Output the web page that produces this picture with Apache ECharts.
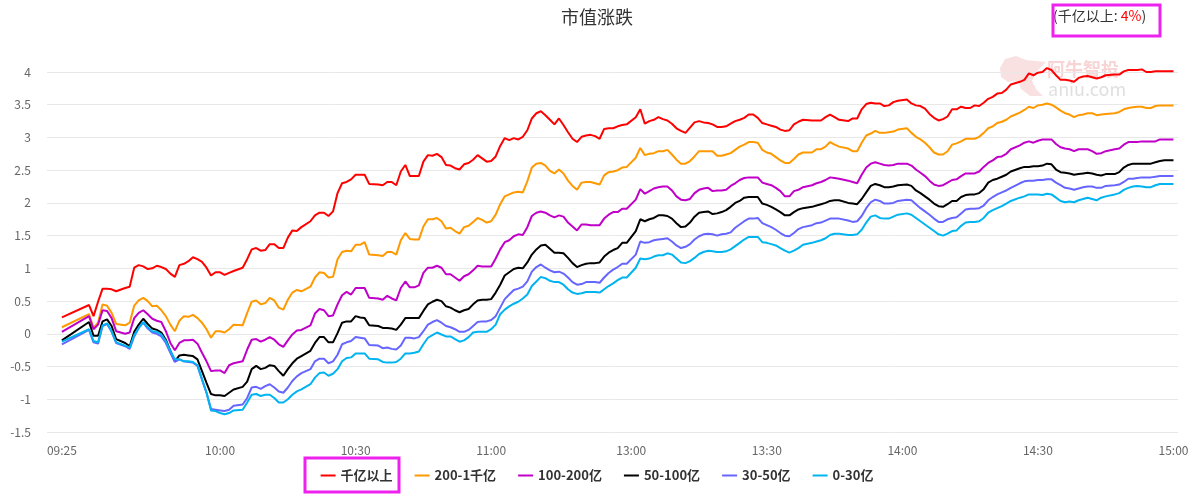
<!DOCTYPE html>
<html><head><meta charset="utf-8">
<script src="https://cdn.jsdelivr.net/npm/echarts@6/dist/echarts.min.js"></script>
<style>html,body{margin:0;padding:0;background:#fff}#c{width:1194px;height:497px}</style>
</head><body><div id="c"></div><script>
const times = [
'09:25','09:31','09:32','09:33','09:34','09:35','09:36','09:37',
'09:39','09:40','09:41','09:42','09:43','09:44','09:45','09:46','09:47','09:48',
'09:49','09:50','09:51','09:52','09:53','09:54','09:55','09:56','09:57','09:58',
'09:59','10:00','10:01','10:02','10:03','10:05','10:06','10:07','10:08','10:09',
'10:10','10:11','10:12','10:13','10:14','10:15','10:16','10:17','10:18','10:20',
'10:21','10:22','10:23','10:24','10:25','10:26',
'10:27','10:28','10:29','10:30','10:31','10:32','10:33',
'10:35','10:36','10:37','10:38','10:39','10:40','10:41','10:42','10:43','10:44',
'10:45','10:46','10:47','10:48','10:49','10:50','10:51','10:52','10:53','10:54',
'10:55','10:56','10:57','10:58','10:59','11:00','11:01','11:02','11:03','11:04',
'11:05','11:06','11:07','11:08','11:09','11:10','11:11','11:12','11:13','11:14',
'11:15','11:16','11:17','11:18','11:19','11:20','11:21','11:22','11:23','11:24',
'11:25','11:26','11:27','11:28',
'11:29','11:30',
'13:01','13:02','13:03','13:04','13:05','13:06','13:07','13:08','13:09','13:10',
'13:11','13:12','13:13','13:14','13:15','13:16','13:17','13:18','13:19','13:20',
'13:21','13:22','13:23','13:24','13:25','13:26','13:27','13:28','13:29','13:30',
'13:31','13:32','13:33','13:34','13:35','13:36','13:37','13:38',
'13:40','13:41','13:42',
'13:43','13:44','13:45','13:46',
'13:48','13:49','13:50','13:51','13:52','13:53','13:54','13:55','13:56','13:57','13:58','13:59',
'14:01','14:02','14:03','14:04','14:05','14:06','14:07','14:08','14:09','14:10',
'14:11','14:12','14:13','14:14','14:15','14:16','14:17','14:18','14:19','14:20',
'14:21','14:22','14:23','14:24',
'14:26','14:27',
'14:28','14:29','14:30','14:31','14:32','14:33','14:34','14:35','14:36','14:37',
'14:38','14:39','14:40','14:41','14:42','14:43','14:44','14:45',
'14:47','14:48','14:49','14:50','14:51','14:52','14:53','14:54','14:55','14:56','14:57','14:58',
'15:00'
];
const tickLabels = ['09:25','10:00','10:30','11:00','13:00','13:30','14:00','14:30','15:00'];
const seriesNames = ['千亿以上','200-1千亿','100-200亿','50-100亿','30-50亿','0-30亿'];

const capAbove1000 = [
0.25,0.44,0.27,0.49,0.69,0.69,0.68,0.65,
0.70,0.72,1.01,1.05,1.03,0.99,1.00,1.04,1.02,0.99,
0.92,0.87,1.05,1.07,1.11,1.17,1.14,1.10,1.01,0.89,
0.94,0.94,0.90,0.93,0.96,1.01,1.14,1.29,1.31,1.27,
1.28,1.37,1.37,1.31,1.31,1.47,1.58,1.57,1.63,1.72,
1.81,1.85,1.85,1.80,1.87,2.15,
2.30,2.32,2.36,2.43,2.43,2.43,2.29,
2.28,2.27,2.32,2.32,2.27,2.48,2.58,2.41,2.41,2.41,
2.63,2.73,2.72,2.75,2.70,2.58,2.57,2.53,2.51,2.59,
2.61,2.66,2.73,2.68,2.63,2.64,2.71,2.87,2.99,2.96,
2.99,2.97,3.01,3.11,3.29,3.37,3.40,3.34,3.27,3.20,
3.29,3.19,3.08,2.98,2.93,3.01,3.03,3.04,3.02,2.98,
3.13,3.14,3.14,3.17,
3.19,3.20,
3.31,3.43,3.21,3.25,3.27,3.31,3.28,3.26,3.21,3.14,
3.10,3.07,3.15,3.23,3.25,3.23,3.22,3.20,3.16,3.16,
3.17,3.21,3.25,3.27,3.30,3.35,3.35,3.30,3.22,3.20,
3.18,3.16,3.12,3.10,3.11,3.20,3.24,3.27,
3.26,3.26,3.26,
3.31,3.35,3.31,3.27,
3.25,3.29,3.29,3.43,3.51,3.53,3.52,3.52,3.48,3.49,3.54,3.56,
3.58,3.52,3.49,3.48,3.44,3.36,3.30,3.26,3.28,3.32,
3.43,3.43,3.47,3.45,3.45,3.49,3.48,3.53,3.59,3.62,
3.67,3.68,3.73,3.81,
3.85,3.88,
3.98,3.95,3.99,4.00,4.06,4.03,3.95,3.88,3.88,3.87,
3.85,3.91,3.93,3.94,3.92,3.90,3.92,3.95,
3.96,3.96,4.01,4.03,4.03,4.03,4.04,4.00,4.00,4.01,4.01,4.01,
4.01
];
const cap200to1000 = [
0.10,0.30,0.09,0.17,0.45,0.43,0.32,0.15,
0.13,0.17,0.43,0.51,0.55,0.50,0.42,0.43,0.36,0.27,
0.14,0.04,0.20,0.27,0.26,0.29,0.24,0.17,0.07,-0.06,
0.04,0.04,0.02,0.07,0.14,0.13,0.32,0.49,0.51,0.45,
0.47,0.55,0.51,0.40,0.37,0.52,0.63,0.67,0.65,0.72,
0.86,0.94,0.93,0.86,0.87,1.14,
1.25,1.27,1.26,1.36,1.36,1.40,1.21,
1.20,1.19,1.25,1.25,1.21,1.43,1.54,1.45,1.44,1.44,
1.64,1.75,1.75,1.77,1.72,1.61,1.62,1.57,1.53,1.63,
1.65,1.71,1.77,1.74,1.70,1.72,1.82,1.98,2.10,2.13,
2.16,2.17,2.16,2.33,2.54,2.60,2.61,2.57,2.49,2.45,
2.51,2.45,2.34,2.26,2.20,2.31,2.32,2.32,2.30,2.28,
2.42,2.47,2.48,2.50,
2.54,2.55,
2.69,2.84,2.73,2.75,2.76,2.79,2.79,2.81,2.74,2.66,
2.60,2.60,2.64,2.71,2.79,2.79,2.79,2.79,2.72,2.72,
2.74,2.76,2.81,2.86,2.89,2.93,2.93,2.92,2.81,2.77,
2.75,2.70,2.65,2.61,2.61,2.67,2.74,2.77,
2.77,2.82,2.82,
2.86,2.93,2.89,2.86,
2.83,2.79,2.79,2.92,3.03,3.06,3.10,3.07,3.07,3.08,3.09,3.12,
3.14,3.07,3.01,2.97,2.92,2.85,2.77,2.74,2.74,2.79,
2.89,2.91,2.94,2.98,2.98,2.98,3.01,3.07,3.14,3.17,
3.22,3.24,3.27,3.32,
3.38,3.42,
3.47,3.45,3.49,3.50,3.52,3.50,3.46,3.41,3.37,3.35,
3.31,3.34,3.35,3.37,3.37,3.34,3.35,3.36,
3.37,3.39,3.43,3.45,3.46,3.47,3.47,3.45,3.45,3.48,3.49,3.49,
3.49
];
const cap100to200 = [
0.03,0.27,0.07,0.14,0.36,0.35,0.24,0.04,
0.00,0.02,0.24,0.32,0.36,0.30,0.23,0.20,0.18,0.04,
-0.14,-0.25,-0.14,-0.10,-0.10,-0.09,-0.15,-0.29,-0.42,-0.57,
-0.56,-0.56,-0.60,-0.48,-0.45,-0.42,-0.24,-0.09,-0.08,-0.12,
-0.09,-0.05,-0.09,-0.16,-0.20,-0.10,-0.01,0.05,0.06,0.13,
0.31,0.38,0.36,0.27,0.28,0.45,
0.59,0.64,0.60,0.70,0.70,0.70,0.55,
0.54,0.52,0.58,0.54,0.51,0.70,0.80,0.71,0.71,0.74,
0.93,1.01,1.01,1.04,1.01,0.91,0.91,0.86,0.81,0.88,
0.91,0.97,1.04,1.03,1.03,1.03,1.15,1.29,1.40,1.43,
1.49,1.52,1.51,1.63,1.80,1.85,1.87,1.85,1.81,1.78,
1.81,1.79,1.70,1.64,1.58,1.67,1.67,1.66,1.66,1.66,
1.76,1.82,1.86,1.86,
1.91,1.91,
2.05,2.21,2.14,2.18,2.22,2.24,2.25,2.25,2.19,2.10,
2.05,2.04,2.06,2.15,2.20,2.22,2.23,2.18,2.19,2.19,
2.20,2.26,2.30,2.35,2.38,2.39,2.39,2.39,2.31,2.29,
2.27,2.23,2.18,2.10,2.10,2.18,2.20,2.24,
2.27,2.30,2.32,
2.35,2.39,2.38,2.37,
2.34,2.32,2.30,2.43,2.54,2.60,2.62,2.60,2.58,2.57,2.58,2.60,
2.60,2.57,2.51,2.46,2.41,2.34,2.28,2.26,2.27,2.31,
2.35,2.36,2.41,2.45,2.45,2.45,2.48,2.55,2.61,2.65,
2.70,2.71,2.75,2.82,
2.88,2.92,
2.94,2.92,2.95,2.97,2.97,2.97,2.90,2.85,2.83,2.82,
2.79,2.82,2.82,2.82,2.79,2.75,2.76,2.79,
2.82,2.83,2.89,2.93,2.93,2.93,2.94,2.94,2.94,2.94,2.97,2.97,
2.97
];
const cap50to100 = [
-0.10,0.18,-0.03,-0.03,0.19,0.22,0.12,-0.08,
-0.14,-0.19,0.03,0.14,0.23,0.15,0.08,0.06,0.02,-0.09,
-0.26,-0.42,-0.33,-0.32,-0.33,-0.34,-0.39,-0.57,-0.75,-0.92,
-0.94,-0.94,-0.95,-0.90,-0.85,-0.81,-0.73,-0.54,-0.49,-0.54,
-0.52,-0.48,-0.49,-0.57,-0.64,-0.54,-0.45,-0.38,-0.34,-0.26,
-0.14,-0.05,-0.05,-0.13,-0.13,0.01,
0.17,0.19,0.19,0.27,0.25,0.24,0.13,
0.12,0.09,0.09,0.08,0.06,0.14,0.24,0.24,0.24,0.24,
0.35,0.45,0.49,0.52,0.50,0.42,0.40,0.36,0.33,0.36,
0.38,0.45,0.51,0.52,0.52,0.53,0.63,0.75,0.89,0.94,
0.99,1.01,1.00,1.09,1.21,1.29,1.35,1.36,1.30,1.24,
1.24,1.23,1.16,1.08,1.02,1.05,1.07,1.08,1.08,1.09,
1.18,1.24,1.28,1.31,
1.39,1.39,
1.57,1.75,1.72,1.75,1.77,1.81,1.81,1.80,1.76,1.69,
1.63,1.64,1.70,1.79,1.85,1.86,1.87,1.83,1.84,1.86,
1.89,1.94,2.00,2.03,2.08,2.09,2.09,2.09,1.99,1.97,
1.94,1.90,1.86,1.81,1.81,1.86,1.90,1.92,
1.94,1.96,1.98,
2.00,2.03,2.04,2.04,
2.00,1.99,1.98,2.06,2.16,2.26,2.29,2.27,2.24,2.24,2.25,2.27,
2.28,2.26,2.19,2.15,2.10,2.05,1.99,1.95,1.94,1.98,
2.03,2.03,2.09,2.12,2.13,2.13,2.15,2.21,2.31,2.35,
2.37,2.40,2.43,2.48,
2.53,2.55,
2.55,2.56,2.56,2.57,2.60,2.59,2.51,2.47,2.46,2.45,
2.43,2.44,2.45,2.46,2.45,2.43,2.42,2.44,
2.44,2.47,2.54,2.58,2.60,2.60,2.60,2.60,2.60,2.62,2.64,2.65,
2.65
];
const cap30to50 = [
-0.16,0.06,-0.13,-0.15,0.12,0.15,0.03,-0.14,
-0.19,-0.23,-0.04,0.09,0.17,0.08,0.02,0.00,-0.04,-0.14,
-0.29,-0.43,-0.39,-0.42,-0.43,-0.44,-0.49,-0.70,-0.90,-1.15,
-1.16,-1.17,-1.18,-1.16,-1.10,-1.08,-0.98,-0.82,-0.81,-0.84,
-0.80,-0.77,-0.82,-0.88,-0.90,-0.82,-0.72,-0.65,-0.60,-0.54,
-0.42,-0.38,-0.38,-0.45,-0.42,-0.32,
-0.16,-0.13,-0.11,-0.05,-0.06,-0.07,-0.17,
-0.18,-0.22,-0.21,-0.23,-0.24,-0.18,-0.06,-0.06,-0.07,-0.05,
0.04,0.14,0.18,0.21,0.17,0.12,0.10,0.07,0.03,0.03,
0.06,0.12,0.18,0.19,0.19,0.21,0.27,0.40,0.53,0.60,
0.67,0.69,0.72,0.80,0.95,1.02,1.06,1.01,0.97,0.94,
0.95,0.92,0.86,0.79,0.75,0.76,0.79,0.79,0.79,0.78,
0.86,0.93,0.98,1.02,
1.07,1.07,
1.21,1.41,1.39,1.40,1.43,1.44,1.45,1.46,1.41,1.35,
1.31,1.33,1.37,1.44,1.49,1.52,1.53,1.52,1.50,1.52,
1.53,1.55,1.62,1.67,1.72,1.76,1.76,1.77,1.69,1.66,
1.63,1.59,1.54,1.50,1.49,1.54,1.60,1.63,
1.66,1.69,1.70,
1.73,1.76,1.76,1.76,
1.73,1.71,1.72,1.80,1.92,2.01,2.05,2.03,1.99,1.99,2.00,2.03,
2.05,2.04,1.98,1.92,1.87,1.82,1.76,1.71,1.71,1.75,
1.77,1.78,1.84,1.90,1.91,1.91,1.92,1.96,2.04,2.09,
2.13,2.16,2.19,2.23,
2.30,2.33,
2.34,2.34,2.35,2.35,2.36,2.36,2.31,2.27,2.23,2.22,
2.20,2.22,2.24,2.25,2.25,2.23,2.23,2.26,
2.27,2.28,2.32,2.37,2.37,2.38,2.39,2.39,2.39,2.40,2.41,2.41,
2.41
];
const cap0to30 = [
-0.12,0.07,-0.11,-0.13,0.13,0.16,0.04,-0.13,
-0.18,-0.21,-0.02,0.09,0.18,0.10,0.04,0.03,-0.01,-0.11,
-0.26,-0.39,-0.39,-0.42,-0.42,-0.43,-0.48,-0.69,-0.90,-1.17,
-1.18,-1.21,-1.23,-1.21,-1.17,-1.16,-1.05,-0.93,-0.92,-0.95,
-0.93,-0.93,-0.98,-1.05,-1.05,-1.00,-0.93,-0.88,-0.85,-0.77,
-0.67,-0.60,-0.59,-0.64,-0.61,-0.54,
-0.42,-0.37,-0.36,-0.30,-0.30,-0.30,-0.38,
-0.39,-0.43,-0.44,-0.44,-0.43,-0.38,-0.30,-0.30,-0.29,-0.27,
-0.16,-0.06,-0.02,0.02,-0.01,-0.04,-0.04,-0.08,-0.12,-0.10,
-0.05,0.02,0.03,0.03,0.03,0.07,0.14,0.30,0.37,0.42,
0.46,0.49,0.54,0.60,0.73,0.80,0.87,0.85,0.81,0.79,
0.79,0.75,0.68,0.63,0.61,0.62,0.64,0.64,0.64,0.63,
0.68,0.73,0.77,0.82,
0.86,0.86,
1.01,1.15,1.14,1.15,1.18,1.20,1.20,1.23,1.21,1.15,
1.09,1.08,1.11,1.16,1.22,1.25,1.27,1.26,1.25,1.25,
1.26,1.29,1.34,1.39,1.44,1.48,1.48,1.48,1.40,1.39,
1.37,1.35,1.31,1.27,1.24,1.27,1.31,1.36,
1.39,1.41,1.43,
1.46,1.51,1.53,1.53,
1.51,1.51,1.52,1.59,1.70,1.79,1.81,1.77,1.76,1.76,1.79,1.82,
1.84,1.82,1.77,1.72,1.67,1.62,1.57,1.52,1.50,1.53,
1.57,1.58,1.65,1.70,1.71,1.71,1.72,1.77,1.85,1.89,
1.92,1.95,1.99,2.03,
2.08,2.10,
2.13,2.13,2.13,2.12,2.14,2.13,2.08,2.03,2.01,2.02,
2.01,2.04,2.06,2.08,2.06,2.04,2.08,2.10,
2.13,2.15,2.20,2.23,2.25,2.26,2.25,2.24,2.24,2.27,2.29,2.29,
2.29
];
const topNote = '千亿以上';
const topNoteValue = '4%';

const F = '"Noto Sans CJK SC","Noto Sans",sans-serif';
const colors = ['#ff0000','#ff9900','#c000c8','#000000','#6666ff','#00b4f0'];
const valueLists = [capAbove1000, cap200to1000, cap100to200, cap50to100, cap30to50, cap0to30];

// trading-minute index: 09:25 -> 0, 11:30 -> 125, 13:00 -> 126, 15:00 -> 246
function toIdx(t) {
  const p = t.split(':');
  const mins = (+p[0]) * 60 + (+p[1]);
  return mins <= 11 * 60 + 30 ? mins - (9 * 60 + 25) : 126 + mins - 13 * 60;
}
const tickIdx = tickLabels.map(toIdx);

const chart = echarts.init(document.getElementById('c'));
chart.setOption({
  animation: false,
  textStyle: { fontFamily: F },
  title: {
    text: '市值涨跌', left: 'center', top: 3,
    textStyle: { fontSize: 18, fontWeight: 'normal', color: '#333', fontFamily: F }
  },
  legend: {
    data: seriesNames, left: 'center', top: 464, icon: 'rect',
    itemGap: 22, itemWidth: 15, itemHeight: 2,
    textStyle: { fontSize: 13, fontWeight: 'bold', color: '#333', fontFamily: F }
  },
  grid: { left: 47, right: 16, top: 72, bottom: 65 },
  xAxis: {
    type: 'value', min: -3.3, max: 247,
    axisLine: { show: false }, axisTick: { show: false }, splitLine: { show: false },
    axisLabel: {
      customValues: tickIdx,
      formatter: function (v) {
        for (let i = 0; i < tickIdx.length; i++) if (Math.abs(tickIdx[i] - v) < 0.01) return tickLabels[i];
        return '';
      },
      color: '#666', fontSize: 12, margin: 12, fontFamily: F
    }
  },
  yAxis: {
    type: 'value', min: -1.5, max: 4, interval: 0.5,
    axisLine: { show: false }, axisTick: { show: false },
    splitLine: { lineStyle: { color: '#e8e8e8' } },
    axisLabel: { color: '#666', fontSize: 12, margin: 16, fontFamily: F }
  },
  series: seriesNames.map(function (name, k) {
    return {
      name: name, type: 'line', symbol: 'none', clip: false,
      color: colors[k],
      lineStyle: { width: 2, color: colors[k] },
      data: times.map(function (t, i) { return [toIdx(t), valueLists[k][i]]; })
    };
  }),
  graphic: [
    { type: 'polygon', z: -1, shape: { points: [[1000,68],[1005,59],[1016,56],[1026,60],[1046,62],[1036,72],[1032,81],[1036,89],[1043,96],[1030,96],[1021,89],[1018,81],[1008,82],[1001,77]] },
      style: { fill: '#f8d4d4', opacity: 0.7 } },
    { type: 'text', z: -1, left: 1047, top: 60, style: { text: '阿牛智投', fontSize: 18, fontWeight: 'bold', fill: '#f8d4d4', fontFamily: F } },
    { type: 'text', z: -1, left: 1048, top: 80, style: { text: 'aniu.com', fontSize: 18, fill: '#e0e0e0', fontFamily: F } },
    { type: 'text', left: 1053, top: 9, style: {
        text: '{a|(' + topNote + ': }{b|' + topNoteValue + '}{a|)}',
        rich: { a: { fontSize: 14, fill: '#333', fontFamily: F }, b: { fontSize: 14, fill: '#ff0000', fontFamily: F } }
      } },
    { type: 'rect', shape: { x: 1053, y: 5, width: 107, height: 31 }, style: { fill: 'none', stroke: '#ee22ee', lineWidth: 3 } },
    { type: 'rect', shape: { x: 305, y: 458, width: 94, height: 34 }, style: { fill: 'none', stroke: '#ee22ee', lineWidth: 3 } }
  ]
});
</script></body></html>
